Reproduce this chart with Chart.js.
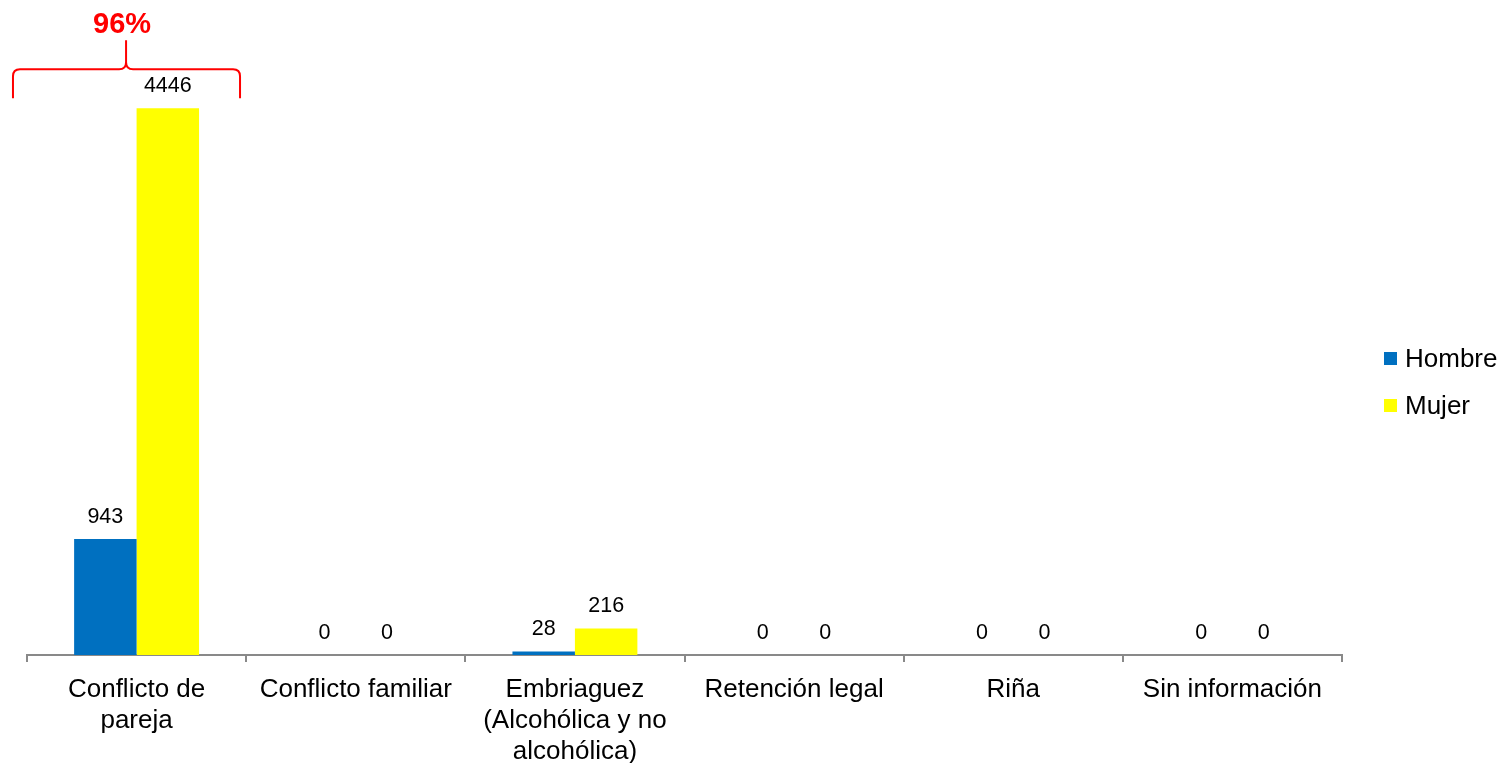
<!DOCTYPE html>
<html>
<head>
<meta charset="utf-8">
<script src="https://cdn.jsdelivr.net/npm/chart.js@4/dist/chart.umd.min.js"></script>
<style>
  html, body { margin: 0; padding: 0; background: #ffffff; }
  #wrap { width: 1501px; height: 763px; position: relative; }
</style>
</head>
<body>
<div id="wrap"><canvas id="c" width="1501" height="763"></canvas></div>
<script>
const categories = [
  ["Conflicto de", "pareja"],
  "Conflicto familiar",
  ["Embriaguez", "(Alcohólica y no", "alcohólica)"],
  "Retención legal",
  "Riña",
  "Sin información"
];
const seriesNames = ["Hombre", "Mujer"];
const hombre = [943, 0, 28, 0, 0, 0];
const mujer = [4446, 0, 216, 0, 0, 0];
const seriesColors = ["#0070C0", "#FFFF00"];
const bracketLabel = "96%";

const FONT = "'Liberation Sans', Arial, sans-serif";

const overlay = {
  id: 'overlay',
  afterDatasetsDraw(chart) {
    const ctx = chart.ctx;
    ctx.save();
    // data labels
    ctx.font = "21.5px " + FONT;
    ctx.fillStyle = "#000000";
    ctx.textAlign = "center";
    ctx.textBaseline = "middle";
    chart.data.datasets.forEach((ds, i) => {
      const meta = chart.getDatasetMeta(i);
      meta.data.forEach((bar, j) => {
        ctx.fillText(String(ds.data[j]), bar.x, bar.y - 22);
      });
    });

    // bracket over first category
    const xs = chart.scales.x;
    const w = xs.width / categories.length;
    const c = xs.getPixelForValue(0);
    const topBar = chart.getDatasetMeta(1).data[0];
    const ty = topBar.y;
    const L = c - 0.564 * w, R = c + 0.472 * w, M = c - 0.048 * w;
    const hy = ty - 39, endY = ty - 10, tipY = ty - 68;
    const r = 7;
    ctx.strokeStyle = "#FF0000";
    ctx.lineWidth = 2;
    ctx.beginPath();
    ctx.moveTo(L, endY);
    ctx.lineTo(L, hy + r);
    ctx.quadraticCurveTo(L, hy, L + r, hy);
    ctx.lineTo(M - r, hy);
    ctx.quadraticCurveTo(M, hy, M, hy - r);
    ctx.lineTo(M, tipY);
    ctx.moveTo(M, hy - r);
    ctx.quadraticCurveTo(M, hy, M + r, hy);
    ctx.lineTo(R - r, hy);
    ctx.quadraticCurveTo(R, hy, R, hy + r);
    ctx.lineTo(R, endY);
    ctx.stroke();

    ctx.fillStyle = "#FF0000";
    ctx.font = "bold 29px " + FONT;
    ctx.fillText(bracketLabel, M - 4, tipY - 15);

    // legend
    const lx = chart.chartArea.right + 42;
    const cy = (chart.chartArea.top + chart.chartArea.bottom) / 2;
    const ys = [cy + 11, cy + 58];
    ctx.font = "26px " + FONT;
    ctx.textAlign = "left";
    seriesNames.forEach((n, i) => {
      ctx.fillStyle = seriesColors[i];
      ctx.fillRect(lx, ys[i] - 6.5, 13, 13);
      ctx.fillStyle = "#000000";
      ctx.fillText(n, lx + 21, ys[i] + 1);
    });
    ctx.restore();
  }
};

new Chart(document.getElementById('c'), {
  type: 'bar',
  data: {
    labels: categories,
    datasets: [
      { label: seriesNames[0], data: hombre, backgroundColor: seriesColors[0] },
      { label: seriesNames[1], data: mujer, backgroundColor: seriesColors[1] }
    ]
  },
  options: {
    responsive: false,
    animation: false,
    devicePixelRatio: 1,
    layout: { padding: { left: 27, right: 159, top: 40, bottom: 0 } },
    datasets: { bar: { barPercentage: 1, categoryPercentage: 0.57 } },
    plugins: { legend: { display: false }, tooltip: { enabled: false } },
    scales: {
      y: { display: false, min: 0, max: 5000 },
      x: {
        afterFit(scale) { scale.height = 108; },
        border: { display: true, color: '#898989', width: 2 },
        grid: { offset: true, drawOnChartArea: false, drawTicks: true, tickLength: 7, color: '#898989', lineWidth: 2 },
        ticks: {
          autoSkip: false, maxRotation: 0, minRotation: 0, padding: 12,
          color: '#000000',
          font: { family: FONT, size: 26, lineHeight: 1.2 }
        }
      }
    }
  },
  plugins: [overlay]
});
</script>
</body>
</html>
